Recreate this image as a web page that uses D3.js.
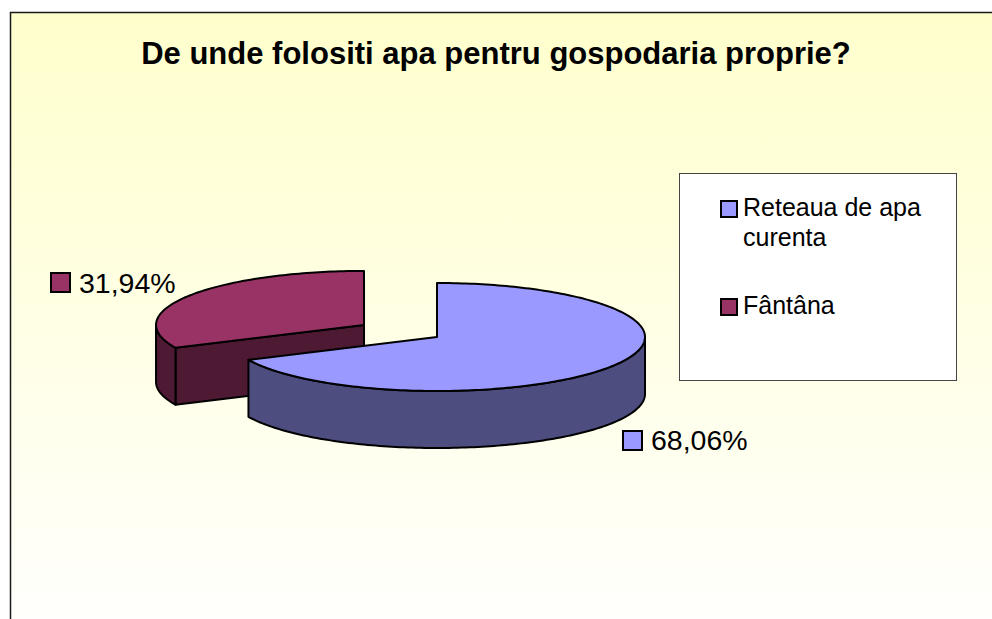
<!DOCTYPE html>
<html>
<head>
<meta charset="utf-8">
<script src="https://cdn.jsdelivr.net/npm/d3@7"></script>
<style>
  html, body { margin: 0; padding: 0; background: #fff; }
  svg { display: block; }
  text { font-family: "Liberation Sans", Arial, sans-serif; }
</style>
</head>
<body>
<div id="chart"></div>
<script>
// data
var categories = ["Reteaua de apa curenta", "Fântâna"];
var values = [68.06, 31.94];
var valueLabels = ["68,06%", "31,94%"];
var legendLines = [["Reteaua de apa", "curenta"], ["Fântâna"]];
var title = "De unde folositi apa pentru gospodaria proprie?";

var width = 992, height = 619;
var topColors = ["#9999FF", "#993366"];
var sideColors = ["#4D4D80", "#4D1933"];
var explode = [0, 0.416];

var svg = d3.select("#chart").append("svg")
    .attr("width", width)
    .attr("height", height);

// background gradient
var defs = svg.append("defs");
var grad = defs.append("linearGradient")
    .attr("id", "bg")
    .attr("x1", 0).attr("y1", 0).attr("x2", 0).attr("y2", 1);
grad.append("stop").attr("offset", "0%").attr("stop-color", "#FFFFCC");
grad.append("stop").attr("offset", "100%").attr("stop-color", "#FFFFFF");

svg.append("rect")
    .attr("x", 10.5).attr("y", 12.5)
    .attr("width", width + 20).attr("height", height + 20)
    .attr("fill", "url(#bg)")
    .attr("stroke", "#1a1a1a")
    .attr("stroke-width", 1.5);

// title
svg.append("text")
    .attr("x", 496).attr("y", 64)
    .attr("text-anchor", "middle")
    .style("font-size", "31px")
    .style("font-weight", "bold")
    .text(title);

// 3d pie
var cx = 437, cy = 337, rx = 208, ry = 54, depth = 57;

var pie = d3.pie().sort(null).startAngle(0).endAngle(2 * Math.PI);
var arcs = pie(values);

var line = d3.line();

function pt(c, a, dz) {
    return [c[0] + rx * Math.sin(a), c[1] - ry * Math.cos(a) + (dz || 0)];
}
function arcPts(c, a0, a1, dz) {
    var n = Math.max(2, Math.ceil(Math.abs(a1 - a0) / 0.02));
    return d3.range(n + 1).map(function(i) { return pt(c, a0 + (a1 - a0) * i / n, dz); });
}

var pieG = svg.append("g")
    .attr("stroke", "#000")
    .attr("stroke-width", 2)
    .attr("stroke-linejoin", "round");

// draw back slice (red) first so blue overlaps it
var order = [1, 0];
order.forEach(function(i) {
    var d = arcs[i];
    var mid = (d.startAngle + d.endAngle) / 2;
    var c = [cx + explode[i] * rx * Math.sin(mid), cy - explode[i] * ry * Math.cos(mid)];
    var g = pieG.append("g");

    // cut faces that face the viewer
    [[d.startAngle, d.startAngle - Math.PI / 2], [d.endAngle, d.endAngle + Math.PI / 2]].forEach(function(f) {
        if (Math.cos(f[1]) < -1e-6) {
            var p = pt(c, f[0]);
            g.append("path")
                .attr("d", line([c, p, [p[0], p[1] + depth], [c[0], c[1] + depth]]) + "Z")
                .attr("fill", sideColors[i]);
        }
    });

    // outer wall (front half only)
    var s = Math.max(d.startAngle, Math.PI / 2), e = Math.min(d.endAngle, 3 * Math.PI / 2);
    if (e > s) {
        var pts = arcPts(c, s, e, 0).concat(arcPts(c, e, s, depth));
        g.append("path")
            .attr("d", line(pts) + "Z")
            .attr("fill", sideColors[i]);
    }

    // top face
    g.append("path")
        .attr("d", line([c].concat(arcPts(c, d.startAngle, d.endAngle, 0))) + "Z")
        .attr("fill", topColors[i]);
});

// value labels
var labelPos = [[623, 431, 651, 450], [51, 273, 79, 293]];
values.forEach(function(v, i) {
    var lp = labelPos[i];
    svg.append("rect")
        .attr("x", lp[0]).attr("y", lp[1])
        .attr("width", 19).attr("height", 19)
        .attr("fill", topColors[i])
        .attr("stroke", "#000").attr("stroke-width", 2);
    svg.append("text")
        .attr("x", lp[2]).attr("y", lp[3])
        .style("font-size", "28.5px")
        .text(valueLabels[i]);
});

// legend
var legend = svg.append("g");
legend.append("rect")
    .attr("x", 679.5).attr("y", 173.5)
    .attr("width", 277).attr("height", 207)
    .attr("fill", "#fff")
    .attr("stroke", "#444").attr("stroke-width", 1);

var legendY = [201, 299];
categories.forEach(function(cat, i) {
    legend.append("rect")
        .attr("x", 721).attr("y", legendY[i])
        .attr("width", 16).attr("height", 16)
        .attr("fill", topColors[i])
        .attr("stroke", "#000").attr("stroke-width", 2);
    var t = legend.append("text")
        .attr("x", 743).attr("y", legendY[i] + 15)
        .style("font-size", "25px");
    legendLines[i].forEach(function(l, j) {
        t.append("tspan").attr("x", 743).attr("dy", j ? 30 : 0).text(l);
    });
});
</script>
</body>
</html>
